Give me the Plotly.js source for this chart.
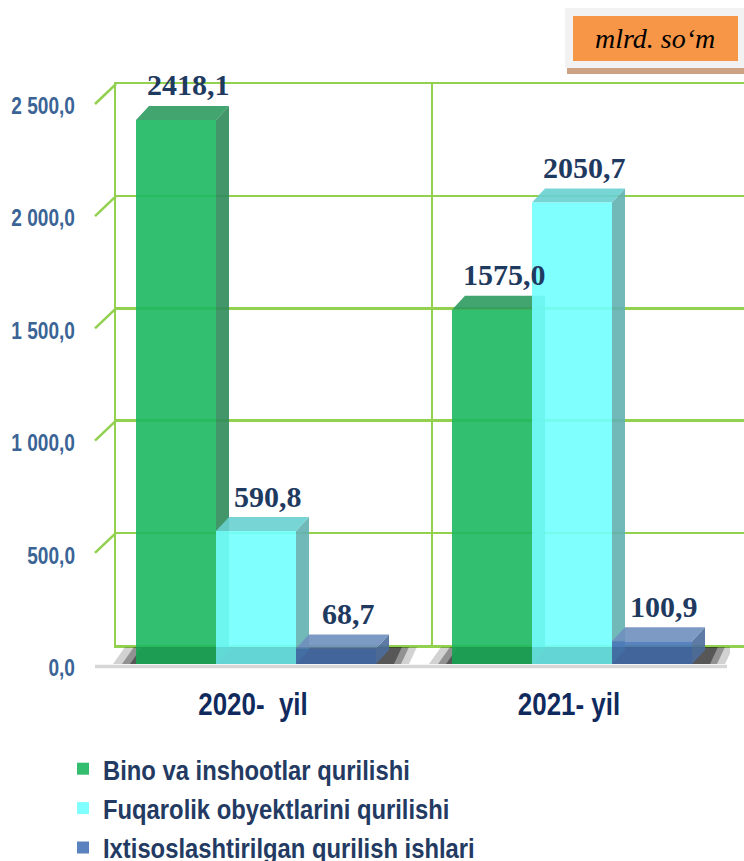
<!DOCTYPE html>
<html>
<head>
<meta charset="utf-8">
<script src="https://cdn.plot.ly/plotly-3.0.1.min.js"></script>
<style>html,body{margin:0;padding:0;background:#fff;} #chart{width:744px;height:861px;}</style>
</head>
<body>
<div id="chart"></div>
<script>
// ---- data ----
const categories = ['2020-\u00a0 yil', '2021- yil'];
const seriesNames = ['Bino va inshootlar qurilishi', 'Fuqarolik obyektlarini qurilishi', 'Ixtisoslashtirilgan qurilish ishlari'];
const binoValues = [2418.1, 1575.0];
const fuqarolikValues = [590.8, 2050.7];
const ixtisosValues = [68.7, 100.9];
const yTickVals = [0, 500, 1000, 1500, 2000, 2500];
const yTickText = ['0,0', '500,0', '1 000,0', '1 500,0', '2 000,0', '2 500,0'];
const unitText = 'mlrd. so\u2018m';

// ---- styling ----
const W = 744, H = 861;
const frontCol = ['#1CB85F', '#72FFFF', '#4975B7'];
const sideCol = ['#2F8B5A', '#62B1B1', '#4D6D9C'];
const topCol = ['#2E9A5F', '#68D0D0', '#6F8FBE'];
const sans = '"Liberation Sans", Arial, sans-serif';
const serif = '"Liberation Serif", "Times New Roman", serif';

// front plane (bars) in px
const B = {l: 98, r: 730, b: 664, t: 10};
// back plane (frame) in px
const A = {l: 116, r: 744, b: 645, t: 84};
const catPx = (B.r - B.l) / 2;
const scaleB = 0.225;
const bargap = 0.2405;
const wc = (1 - bargap) / 3;
const barPx = wc * catPx;
const depthX = 13, depthY = 14;
const depthYData = depthY / scaleB;
const slantX = 21, slantY = 20;

const px = x => x / W;
const py = y => 1 - y / H;

const allSeries = [binoValues, fuqarolikValues, ixtisosValues];

const traces = [];
traces.push({type: 'scatter', x: [], y: [], xaxis: 'x', yaxis: 'y', showlegend: false, hoverinfo: 'skip'});
allSeries.forEach((vals, i) => {
  traces.push({
    type: 'bar', name: seriesNames[i], x: categories, y: vals,
    xaxis: 'x2', yaxis: 'y2', legendgroup: 'g' + i,
    marker: {color: frontCol[i], line: {width: 0}},
    opacity: 0.9, hoverinfo: 'skip'
  });
});

const shapes = [];
const annotations = [];

// floor shadows under each group
categories.forEach((c, j) => {
  [[-126, 138, 0.5], [-134, 145, 0.35], [-143, 153, 0.2]].forEach(s => {
    shapes.push({type: 'path', layer: 'below', xref: 'x2', yref: 'y2',
      xsizemode: 'pixel', xanchor: j, ysizemode: 'pixel', yanchor: 0,
      path: `M${s[0]},0 L${s[1]},0 L${s[1] + 8},17 L${s[0] + 12},17 Z`,
      fillcolor: '#1e1e1e', opacity: s[2], line: {width: 0}});
  });
});

// 3D side and top faces derived from the values
allSeries.forEach((vals, i) => {
  vals.forEach((v, j) => {
    const center = j + (i - 1) * wc;
    shapes.push({type: 'path', layer: 'below', xref: 'x2', yref: 'y2',
      xsizemode: 'pixel', xanchor: center + wc / 2,
      path: `M0,0 L${depthX},${depthYData} L${depthX},${v + depthYData} L0,${v} Z`,
      fillcolor: sideCol[i], opacity: 0.9, line: {width: 0}});
    shapes.push({type: 'path', layer: 'below', xref: 'x2', yref: 'y2',
      xsizemode: 'pixel', xanchor: center - wc / 2,
      path: `M0,${v} L${barPx},${v} L${barPx + depthX},${v + depthYData} L${depthX},${v + depthYData} Z`,
      fillcolor: topCol[i], opacity: 0.9, line: {width: 0}});
    annotations.push({xref: 'x2', yref: 'y2', x: center, y: v, yshift: 35, xshift: 12,
      text: v.toFixed(1).replace('.', ','), showarrow: false,
      font: {family: serif, size: 30, color: '#1F3A60', weight: 'bold'}});
  });
});

// darker strip at the base of bar fronts
categories.forEach((c, j) => {
  shapes.push({type: 'rect', layer: 'above', xref: 'x2', yref: 'y2',
    xsizemode: 'pixel', xanchor: j, ysizemode: 'pixel', yanchor: 0,
    x0: -1.5 * barPx, x1: 1.5 * barPx, y0: 0, y1: 17,
    fillcolor: 'rgba(0,0,0,0.1)', line: {width: 0}});
});

// slanted frame ticks on the left wall
yTickVals.forEach(v => {
  shapes.push({type: 'line', layer: 'below', xref: 'paper', yref: 'y',
    ysizemode: 'pixel', yanchor: v, x0: px(A.l), x1: px(A.l - slantX), y0: 0, y1: -slantY,
    line: {color: '#92D050', width: 2.5}});
});
// slanted floor edges at category separators
[1, 2].forEach(k => {
  shapes.push({type: 'line', layer: 'below', xref: 'paper', yref: 'y',
    ysizemode: 'pixel', yanchor: 0, x0: px(A.l + k * catPx), x1: px(A.l + k * catPx - slantX), y0: 0, y1: -slantY,
    line: {color: '#92D050', width: 2.5}});
});
// floor front edge
shapes.push({type: 'line', layer: 'below', xref: 'paper', yref: 'paper',
  x0: px(A.l - slantX), x1: px(A.l - slantX + 2 * catPx), y0: py(B.b + 2.5), y1: py(B.b + 2.5),
  line: {color: '#D6D6D6', width: 3.5}});

// unit box
shapes.push({type: 'rect', xref: 'paper', yref: 'paper', layer: 'above',
  x0: px(565), x1: px(744), y0: py(68), y1: py(8), fillcolor: '#F2F2F2', line: {width: 0}});
shapes.push({type: 'rect', xref: 'paper', yref: 'paper', layer: 'above',
  x0: px(567), x1: px(744), y0: py(74), y1: py(68), fillcolor: '#CDA283', line: {width: 0}});
shapes.push({type: 'rect', xref: 'paper', yref: 'paper', layer: 'above',
  x0: px(573), x1: px(738), y0: py(61), y1: py(16), fillcolor: '#F79646', line: {width: 0}});
annotations.push({xref: 'paper', yref: 'paper', x: px(655), y: py(39), text: unitText,
  showarrow: false, xanchor: 'center', yanchor: 'middle',
  font: {family: serif, size: 28, color: '#000000', style: 'italic'}});

const green = '#92D050';
const layout = {
  width: W, height: H,
  margin: {l: 0, r: 0, t: 0, b: 0, autoexpand: false},
  paper_bgcolor: '#ffffff', plot_bgcolor: 'rgba(0,0,0,0)',
  barmode: 'group', bargap: bargap, bargroupgap: 0,
  showlegend: true,
  legend: {x: px(63), xanchor: 'left', y: py(744), yanchor: 'top',
    font: {family: sans, size: 28, color: '#233A62', weight: 'bold'},
    bgcolor: 'rgba(0,0,0,0)', tracegroupgap: 0, traceorder: 'normal'},
  xaxis: {domain: [px(A.l), 1], range: [0, (A.r - A.l) / catPx], anchor: 'y',
    showgrid: true, gridcolor: green, gridwidth: 2.5, tickvals: [1], showticklabels: false,
    zeroline: false, showline: true, mirror: true, linecolor: green, linewidth: 2.5, ticks: ''},
  yaxis: {domain: [py(A.b), py(A.t)], range: [0, 2500], anchor: 'x',
    showgrid: true, gridcolor: green, gridwidth: 2.5, tickvals: yTickVals, showticklabels: false,
    zeroline: false, showline: true, linecolor: green, linewidth: 2.5, ticks: ''},
  xaxis2: {domain: [px(B.l), px(B.r)], type: 'category', range: [-0.5, 1.5], anchor: 'y2',
    showgrid: false, zeroline: false, showline: false, ticks: '',
    ticklabelstandoff: 18, ticklabelshift: -3,
    tickfont: {family: sans, size: 32, color: '#102A5E', weight: 'bold'}},
  yaxis2: {domain: [py(B.b), py(B.t)], range: [0, (B.b - B.t) / scaleB], anchor: 'x2',
    showgrid: false, zeroline: false, showline: false, ticks: '',
    tickvals: yTickVals, ticktext: yTickText,
    ticklabelstandoff: 22, ticklabelshift: 4,
    tickfont: {family: sans, size: 23, color: '#3B6496', weight: 'bold'}},
  shapes: shapes,
  annotations: annotations
};

// narrow-face look: compress glyph widths of sans texts
function condenseTexts() {
  const groups = [['#chart .x2tick text', 0.81], ['#chart .y2tick text', 0.83], ['#chart .legendtext', 0.85]];
  groups.forEach(([sel, f]) => {
    document.querySelectorAll(sel).forEach(el => {
      el.removeAttribute('textLength');
      const L = el.getComputedTextLength();
      if (L > 0) {
        el.setAttribute('textLength', (L * f).toFixed(2));
        el.setAttribute('lengthAdjust', 'spacingAndGlyphs');
      }
    });
  });
}

Plotly.newPlot('chart', traces, layout, {displayModeBar: false, staticPlot: true}).then(condenseTexts);
</script>
</body>
</html>
